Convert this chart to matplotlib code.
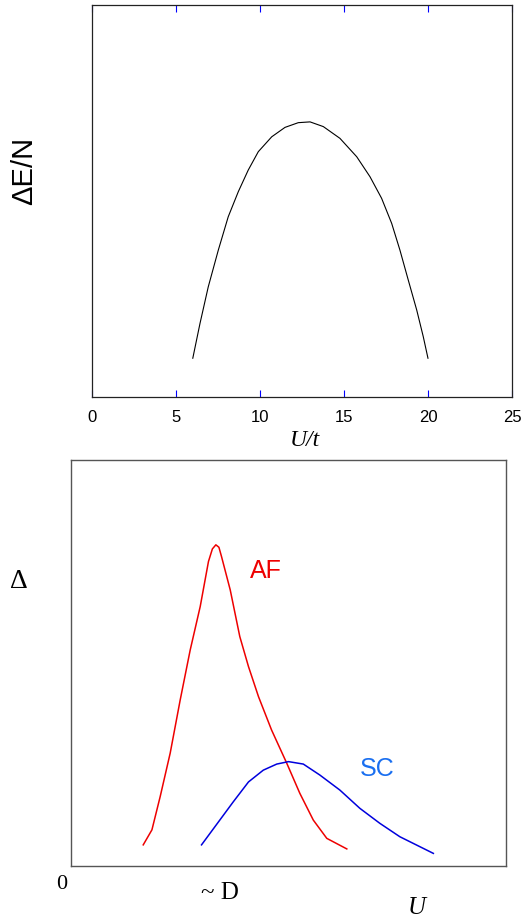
import numpy as np
import matplotlib.pyplot as plt

# top panel: energy gain vs U/t
ut = [6.0, 6.43, 6.92, 7.52, 8.11, 8.71, 9.30, 9.90, 10.70, 11.49, 12.28, 12.98,
      13.77, 14.76, 15.76, 16.55, 17.24, 17.84, 18.33, 18.83, 19.33, 19.72, 20.0]
dE = [0.099, 0.188, 0.281, 0.375, 0.460, 0.524, 0.579, 0.626, 0.664, 0.688, 0.700, 0.702,
      0.690, 0.660, 0.613, 0.562, 0.507, 0.443, 0.375, 0.298, 0.222, 0.154, 0.099]
xticks = [0, 5, 10, 15, 20, 25]

# bottom panel: schematic gaps vs U
af_u = [0.166, 0.186, 0.205, 0.228, 0.251, 0.274, 0.297, 0.316, 0.325, 0.333, 0.340, 0.346,
        0.366, 0.388, 0.408, 0.431, 0.461, 0.496, 0.526, 0.557, 0.588, 0.634]
af_gap = [0.052, 0.089, 0.171, 0.278, 0.409, 0.532, 0.639, 0.750, 0.781, 0.791, 0.785, 0.762,
          0.680, 0.565, 0.491, 0.417, 0.335, 0.253, 0.179, 0.113, 0.068, 0.042]
sc_u = [0.300, 0.331, 0.373, 0.408, 0.442, 0.473, 0.500, 0.534, 0.572, 0.618,
        0.664, 0.710, 0.756, 0.833]
sc_gap = [0.052, 0.097, 0.158, 0.207, 0.236, 0.251, 0.257, 0.251, 0.224, 0.187,
          0.142, 0.105, 0.072, 0.031]

sans = 'Liberation Sans'
serif = 'Liberation Serif'

fig = plt.figure(figsize=(5.23, 9.24), dpi=100)

# --- top plot
ax1 = fig.add_axes([0.1759, 0.5703, 0.803, 0.4242])
ax1.plot(ut, dE, color='black', lw=0.8)
ax1.set_xlim(0, 25)
ax1.set_ylim(0, 1)
ax1.set_xticks(xticks)
ax1.set_xticklabels([str(t) for t in xticks], fontfamily=sans, fontsize=12)
ax1.set_yticks([])
ax1.tick_params(axis='x', direction='in', top=True, bottom=True, length=5,
                color='blue', width=0.8, pad=9)
for s in ax1.spines.values():
    s.set_color('#222222')
    s.set_linewidth(0.9)
fig.text(305 / 523, 1 - 440 / 924, 'U/t', fontfamily=serif, fontstyle='italic',
         fontsize=17, ha='center', va='center')
fig.text(24 / 523, 1 - 171 / 924, 'ΔE/N', fontfamily=sans, fontsize=21,
         rotation=90, ha='center', va='center')

# --- bottom plot
ax2 = fig.add_axes([0.1358, 0.0628, 0.8317, 0.4394])
ax2.plot(af_u, af_gap, color='#ee0000', lw=1.1)
ax2.plot(sc_u, sc_gap, color='#0000dd', lw=1.1)
ax2.set_xlim(0, 1)
ax2.set_ylim(0, 1)
ax2.set_xticks([])
ax2.set_yticks([])
for s in ax2.spines.values():
    s.set_color('#555555')
    s.set_linewidth(1.0)

ax2.text(0.448, 0.727, 'AF', color='#ee0000', fontfamily=sans, fontsize=18,
         ha='center', va='center', transform=ax2.transAxes)
ax2.text(0.703, 0.239, 'SC', color='#1a6ff0', fontfamily=sans, fontsize=18,
         ha='center', va='center', transform=ax2.transAxes)
ax2.text(-0.12, 0.70, 'Δ', fontfamily=serif, fontsize=20,
         ha='center', va='center', transform=ax2.transAxes, clip_on=False)
ax2.text(-0.021, -0.045, '0', fontfamily=serif, fontsize=16,
         ha='center', va='center', transform=ax2.transAxes, clip_on=False)
ax2.text(0.343, -0.066, '~ D', fontfamily=serif, fontsize=18,
         ha='center', va='center', transform=ax2.transAxes, clip_on=False)
ax2.text(0.795, -0.103, 'U', fontfamily=serif, fontstyle='italic', fontsize=18,
         ha='center', va='center', transform=ax2.transAxes, clip_on=False)

plt.savefig('out.png', dpi=100)
